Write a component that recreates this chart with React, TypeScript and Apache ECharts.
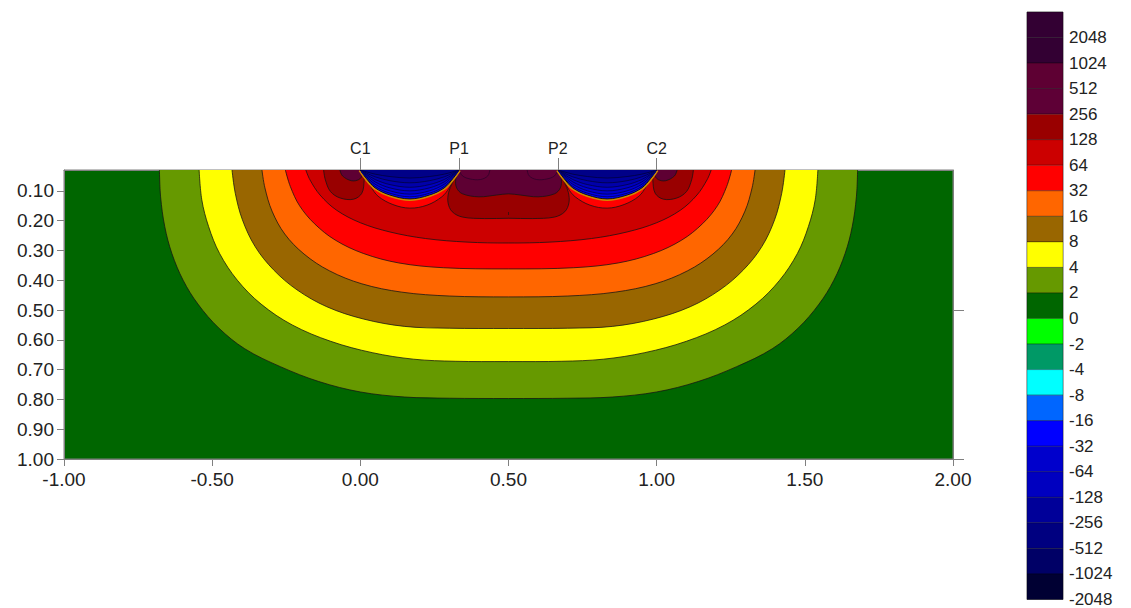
import React, { useEffect, useRef } from "react";
import * as echarts from "echarts";

// ---------- axes / ticks ----------
const xTicks = [-1, -0.5, 0, 0.5, 1, 1.5, 2];
const depthTicks = [0.1, 0.2, 0.3, 0.4, 0.5, 0.6, 0.7, 0.8, 0.9, 1.0];
const rightTicks = [0.5, 1.0];
const electrodeX = [0, 0.3333, 0.6667, 1.0];
const electrodeNames = ["C1", "P1", "P2", "C2"];
const DEPTH_TOP = 0.03;
const DEPTH_BOTTOM = 1.0;

// ---------- colour scale ----------
const levelLabels = ["2048", "1024", "512", "256", "128", "64", "32", "16", "8", "4", "2", "0", "-2", "-4", "-8", "-16", "-32", "-64", "-128", "-256", "-512", "-1024", "-2048"];
const bandColors = ["#330033", "#330033", "#5e0033", "#5e0036", "#990000", "#cc0000", "#ff0000", "#ff6600", "#996600", "#ffff00", "#669900", "#006600", "#00ff00", "#009966", "#00ffff", "#0066ff", "#0000ff", "#0000cc", "#0000c0", "#000099", "#000080", "#000066", "#000033"];

// ---------- contour boundaries [x, depth] ----------
const contour2 = [[-0.678, 0.03], [-0.674, 0.12], [-0.66, 0.22], [-0.636, 0.31], [-0.598, 0.4], [-0.548, 0.48], [-0.478, 0.56], [-0.39, 0.63], [-0.27, 0.69], [-0.14, 0.74], [0.0, 0.775], [0.15, 0.792], [0.3, 0.796], [0.5, 0.797], [0.7, 0.796], [0.85, 0.792], [1.0, 0.775], [1.14, 0.74], [1.27, 0.69], [1.39, 0.63], [1.478, 0.56], [1.548, 0.48], [1.598, 0.4], [1.636, 0.31], [1.66, 0.22], [1.674, 0.12], [1.678, 0.03]];
const contour4 = [[-0.544, 0.03], [-0.535, 0.13], [-0.512, 0.22], [-0.475, 0.31], [-0.415, 0.4], [-0.335, 0.48], [-0.23, 0.55], [-0.1, 0.605], [0.04, 0.643], [0.18, 0.665], [0.32, 0.672], [0.5, 0.673], [0.68, 0.672], [0.82, 0.665], [0.96, 0.643], [1.1, 0.605], [1.23, 0.55], [1.335, 0.48], [1.415, 0.4], [1.475, 0.31], [1.512, 0.22], [1.535, 0.13], [1.544, 0.03]];
const contour8 = [[-0.433, 0.03], [-0.422, 0.108], [-0.398, 0.197], [-0.355, 0.287], [-0.293, 0.365], [-0.214, 0.432], [-0.113, 0.489], [0.01, 0.53], [0.15, 0.555], [0.3, 0.561], [0.5, 0.562], [0.7, 0.561], [0.85, 0.555], [0.99, 0.53], [1.113, 0.489], [1.214, 0.432], [1.293, 0.365], [1.355, 0.287], [1.398, 0.197], [1.422, 0.108], [1.433, 0.03]];
const contour16 = [[-0.332, 0.03], [-0.322, 0.09], [-0.298, 0.168], [-0.255, 0.245], [-0.19, 0.312], [-0.105, 0.368], [0.005, 0.412], [0.14, 0.44], [0.3, 0.453], [0.5, 0.456], [0.7, 0.453], [0.86, 0.44], [0.995, 0.412], [1.105, 0.368], [1.19, 0.312], [1.255, 0.245], [1.298, 0.168], [1.322, 0.09], [1.332, 0.03]];
const contour32 = [[-0.253, 0.03], [-0.236, 0.086], [-0.205, 0.15], [-0.155, 0.21], [-0.085, 0.265], [0.01, 0.31], [0.13, 0.342], [0.28, 0.358], [0.5, 0.362], [0.72, 0.358], [0.87, 0.342], [0.99, 0.31], [1.085, 0.265], [1.155, 0.21], [1.205, 0.15], [1.236, 0.086], [1.253, 0.03]];
const contour64 = [[-0.184, 0.03], [-0.17, 0.063], [-0.136, 0.114], [-0.08, 0.165], [0.0, 0.207], [0.1, 0.238], [0.22, 0.26], [0.36, 0.272], [0.5, 0.275], [0.64, 0.272], [0.78, 0.26], [0.9, 0.238], [1.0, 0.207], [1.08, 0.165], [1.136, 0.114], [1.17, 0.063], [1.184, 0.03]];
// 32..64 crescents just below the negative lobes
const crescentLeft = [[0.02, 0.058], [0.035, 0.085], [0.06, 0.118], [0.11, 0.146], [0.167, 0.158], [0.225, 0.148], [0.275, 0.12], [0.3, 0.09], [0.313, 0.062]];
const crescentRight = [[0.687, 0.062], [0.7, 0.09], [0.725, 0.12], [0.775, 0.148], [0.833, 0.158], [0.89, 0.146], [0.94, 0.118], [0.965, 0.085], [0.98, 0.058]];
// >= 128
const lobe128C1 = [[-0.124, 0.03], [-0.118, 0.063], [-0.101, 0.102], [-0.068, 0.124], [-0.023, 0.128], [0.005, 0.108], [0.013, 0.063], [0.011, 0.04], [0.0, 0.03]];
const lobe128Mid = [[0.333, 0.03], [0.325, 0.045], [0.31, 0.075], [0.298, 0.105], [0.296, 0.14], [0.31, 0.17], [0.345, 0.188], [0.42, 0.193], [0.5, 0.192], [0.58, 0.193], [0.655, 0.188], [0.69, 0.17], [0.704, 0.14], [0.702, 0.105], [0.69, 0.075], [0.675, 0.045], [0.667, 0.03]];
const lobe128C2 = [[1.0, 0.03], [0.989, 0.04], [0.987, 0.063], [0.995, 0.108], [1.023, 0.128], [1.068, 0.124], [1.101, 0.102], [1.118, 0.063], [1.124, 0.03]];
// >= 256
const lobe256C1 = [[-0.069, 0.03], [-0.06, 0.05], [-0.03, 0.066], [-0.005, 0.062], [0.008, 0.045], [0.005, 0.03]];
const lobe256Mid = [[0.333, 0.03], [0.322, 0.06], [0.325, 0.09], [0.345, 0.11], [0.4, 0.12], [0.46, 0.114], [0.5, 0.11], [0.54, 0.114], [0.6, 0.12], [0.655, 0.11], [0.675, 0.09], [0.678, 0.06], [0.667, 0.03]];
const lobe256C2 = [[0.995, 0.03], [0.992, 0.045], [1.005, 0.062], [1.03, 0.066], [1.06, 0.05], [1.069, 0.03]];
// >= 512
const lobe512P1 = [[0.333, 0.03], [0.345, 0.05], [0.37, 0.06], [0.405, 0.062], [0.43, 0.05], [0.437, 0.03]];
const lobe512P2 = [[0.563, 0.03], [0.57, 0.05], [0.595, 0.062], [0.63, 0.06], [0.655, 0.05], [0.667, 0.03]];
const midMark = [[0.5, 0.171], [0.5, 0.181]];
// negative lobes between C1-P1 and P2-C2: x positions and depth of each level
const negX1 = [0, 0.02, 0.05, 0.1, 0.167, 0.233, 0.283, 0.313, 0.333];
const negX2 = [0.667, 0.687, 0.717, 0.767, 0.833, 0.9, 0.95, 0.98, 1.0];
const negEdge = [0.03, 0.058, 0.09, 0.114, 0.127, 0.114, 0.09, 0.058, 0.03];
const neg32 = [0.03, 0.055, 0.085, 0.108, 0.12, 0.108, 0.085, 0.055, 0.03];
const neg64 = [0.03, 0.051, 0.078, 0.1, 0.111, 0.1, 0.078, 0.051, 0.03];
const neg128 = [0.03, 0.047, 0.07, 0.09, 0.1, 0.09, 0.07, 0.047, 0.03];
const neg256 = [0.03, 0.044, 0.062, 0.079, 0.088, 0.079, 0.062, 0.044, 0.03];
const neg512 = [0.03, 0.04, 0.053, 0.066, 0.073, 0.066, 0.053, 0.04, 0.03];
const neg1024 = [0.03, 0.036, 0.044, 0.052, 0.057, 0.052, 0.044, 0.036, 0.03];

type Layer = { pts: number[][]; fill: string | null; stroke: string | null; lw: number };

const LINE = "rgba(20,20,20,0.85)";

function buildLayers(): Layer[] {
  const L: Layer[] = [];
  const add = (pts: number[][], fill: string | null, stroke: string | null = LINE, lw = 0.9) => L.push({ pts, fill, stroke, lw });
  add(contour2, "#669900");
  add(contour4, "#ffff00");
  add(contour8, "#996600");
  add(contour16, "#ff6600");
  add(contour32, "#ff0000");
  add(contour64, "#cc0000");
  add(crescentLeft, "#ff0000");
  add(crescentRight, "#ff0000");
  add(lobe128C1, "#990000");
  add(lobe128Mid, "#990000");
  add(lobe128C2, "#990000");
  add(lobe256C1, "#5e0033");
  add(lobe256Mid, "#5e0033");
  add(lobe256C2, "#5e0033");
  add(lobe512P1, "#600036", "rgba(40,0,40,0.8)");
  add(lobe512P2, "#600036", "rgba(40,0,40,0.8)");
  add(midMark, null);
  const negLevels: [number[], string][] = [
    [negEdge, "#0000ff"],
    [neg32, "#0000e6"],
    [neg64, "#0000cc"],
    [neg128, "#0000c0"],
    [neg256, "#0000aa"],
    [neg512, "#000099"],
    [neg1024, "#000088"],
  ];
  for (const xs of [negX1, negX2]) {
    const edge = xs.map((x, i) => [x, negEdge[i]]);
    add(edge, null, "#d08a00", 4);
    negLevels.forEach(([prof, col], k) => {
      add(xs.map((x, i) => [x, prof[i]]), col, k === 0 ? "#111" : "rgba(0,0,30,0.75)", k === 0 ? 1 : 0.8);
    });
  }
  return L;
}

const FONT = "'Liberation Sans', Arial, sans-serif";
const SMOOTH = 0.35;

export default function App() {
  const ref = useRef<HTMLDivElement>(null);
  useEffect(() => {
    if (!ref.current) return;
    const chart = echarts.init(ref.current, null, { renderer: "svg" });
    const layers = buildLayers();
    const option: any = {
      animation: false,
      backgroundColor: "#ffffff",
      grid: [
        { left: 64, top: 170, width: 889, height: 289, show: true, backgroundColor: "#006600", borderColor: "#808080", borderWidth: 1 },
        { left: 1027, top: 12, width: 36, height: 588, show: true, backgroundColor: "#ffffff", borderColor: "#999999", borderWidth: 1 },
      ],
      xAxis: [
        {
          type: "value", gridIndex: 0, position: "bottom", min: -1, max: 2, interval: 0.5,
          splitLine: { show: false },
          axisLine: { show: true, onZero: false, lineStyle: { color: "#808080" } },
          axisTick: { show: true, length: 7, lineStyle: { color: "#808080" } },
          axisLabel: { formatter: (v: number) => v.toFixed(2), fontSize: 19, color: "#222", margin: 11, fontFamily: FONT },
        },
        {
          type: "value", gridIndex: 0, position: "top", min: -1, max: 2,
          splitLine: { show: false },
          axisLine: { show: true, onZero: false, lineStyle: { color: "#808080" } },
          axisTick: { show: true, length: 12, customValues: electrodeX, lineStyle: { color: "#808080" } },
          axisLabel: {
            customValues: electrodeX, fontSize: 16, color: "#222", margin: 14, fontFamily: FONT,
            formatter: (v: number) => { const i = electrodeX.findIndex((e) => Math.abs(e - v) < 1e-3); return i >= 0 ? electrodeNames[i] : ""; },
          },
        },
        { type: "value", gridIndex: 1, min: 0, max: 1, show: false },
      ],
      yAxis: [
        {
          type: "value", gridIndex: 0, position: "left", inverse: true, min: DEPTH_TOP, max: DEPTH_BOTTOM,
          splitLine: { show: false },
          axisLine: { show: true, onZero: false, lineStyle: { color: "#808080" } },
          axisTick: { show: true, length: 7, customValues: depthTicks, lineStyle: { color: "#808080" } },
          axisLabel: { customValues: depthTicks, formatter: (v: number) => v.toFixed(2), fontSize: 19, color: "#222", margin: 10, fontFamily: FONT },
        },
        {
          type: "value", gridIndex: 0, position: "right", inverse: true, min: DEPTH_TOP, max: DEPTH_BOTTOM,
          splitLine: { show: false },
          axisLine: { show: true, onZero: false, lineStyle: { color: "#808080" } },
          axisTick: { show: true, length: 11, customValues: rightTicks, lineStyle: { color: "#808080" } },
          axisLabel: { show: false },
        },
        {
          type: "value", gridIndex: 1, position: "right", inverse: true, min: 0, max: levelLabels.length, interval: 1,
          splitLine: { show: false },
          axisLine: { show: false },
          axisTick: { show: false },
          axisLabel: {
            fontSize: 17, color: "#222", margin: 6, fontFamily: FONT, showMinLabel: true, showMaxLabel: true,
            formatter: (v: number) => (v >= 1 ? levelLabels[Math.round(v) - 1] : ""),
          },
        },
      ],
      series: [
        {
          type: "custom", xAxisIndex: 0, yAxisIndex: 0, silent: true, clip: true,
          data: layers.map((_, i) => [0.5, 0.5, i]),
          renderItem: (params: any, api: any) => {
            const layer = layers[params.dataIndex];
            const pts = layer.pts.map((p) => api.coord(p));
            const c0 = api.coord([-1, DEPTH_TOP]);
            const c1 = api.coord([2, DEPTH_BOTTOM]);
            const top = Math.min(c0[1], c1[1]);
            const constraint = [
              [Math.min(c0[0], c1[0]), top - 12],
              [Math.max(c0[0], c1[0]), Math.max(c0[1], c1[1])],
            ];
            const lineConstraint = [
              [Math.min(c0[0], c1[0]), top],
              [Math.max(c0[0], c1[0]), Math.max(c0[1], c1[1])],
            ];
            const first = layer.pts[0];
            const last = layer.pts[layer.pts.length - 1];
            let polyPts = pts;
            if (first[1] <= DEPTH_TOP + 1e-6 && last[1] <= DEPTH_TOP + 1e-6) {
              // continue the outline a little above the frame so that the closing corners are clipped away
              polyPts = [[pts[0][0], top - 10], ...pts, [pts[pts.length - 1][0], top - 10]];
            }
            const children: any[] = [];
            if (layer.fill) children.push({ type: "polygon", z2: params.dataIndex * 2, shape: { points: polyPts, smooth: SMOOTH, smoothConstraint: constraint }, style: { fill: layer.fill } });
            if (layer.stroke) children.push({ type: "polyline", z2: params.dataIndex * 2 + 1, shape: { points: pts, smooth: SMOOTH, smoothConstraint: lineConstraint }, style: { stroke: layer.stroke, lineWidth: layer.lw, fill: "none" } });
            return { type: "group", children };
          },
        },
        {
          type: "custom", xAxisIndex: 2, yAxisIndex: 2, silent: true,
          data: bandColors.map((_, i) => [0.5, i + 0.5]),
          renderItem: (params: any, api: any) => {
            const i = params.dataIndex;
            const a = api.coord([0, i]);
            const b = api.coord([1, i + 1]);
            return {
              type: "rect",
              shape: { x: a[0], y: a[1], width: b[0] - a[0], height: b[1] - a[1] },
              style: { fill: bandColors[i], stroke: "rgba(0,0,0,0.3)", lineWidth: 1 },
            };
          },
        },
      ],
    };
    chart.setOption(option);
    return () => chart.dispose();
  }, []);
  return <div ref={ref} style={{ position: "fixed", left: 0, top: 0, width: 1131, height: 608, background: "#fff" }} />;
}
